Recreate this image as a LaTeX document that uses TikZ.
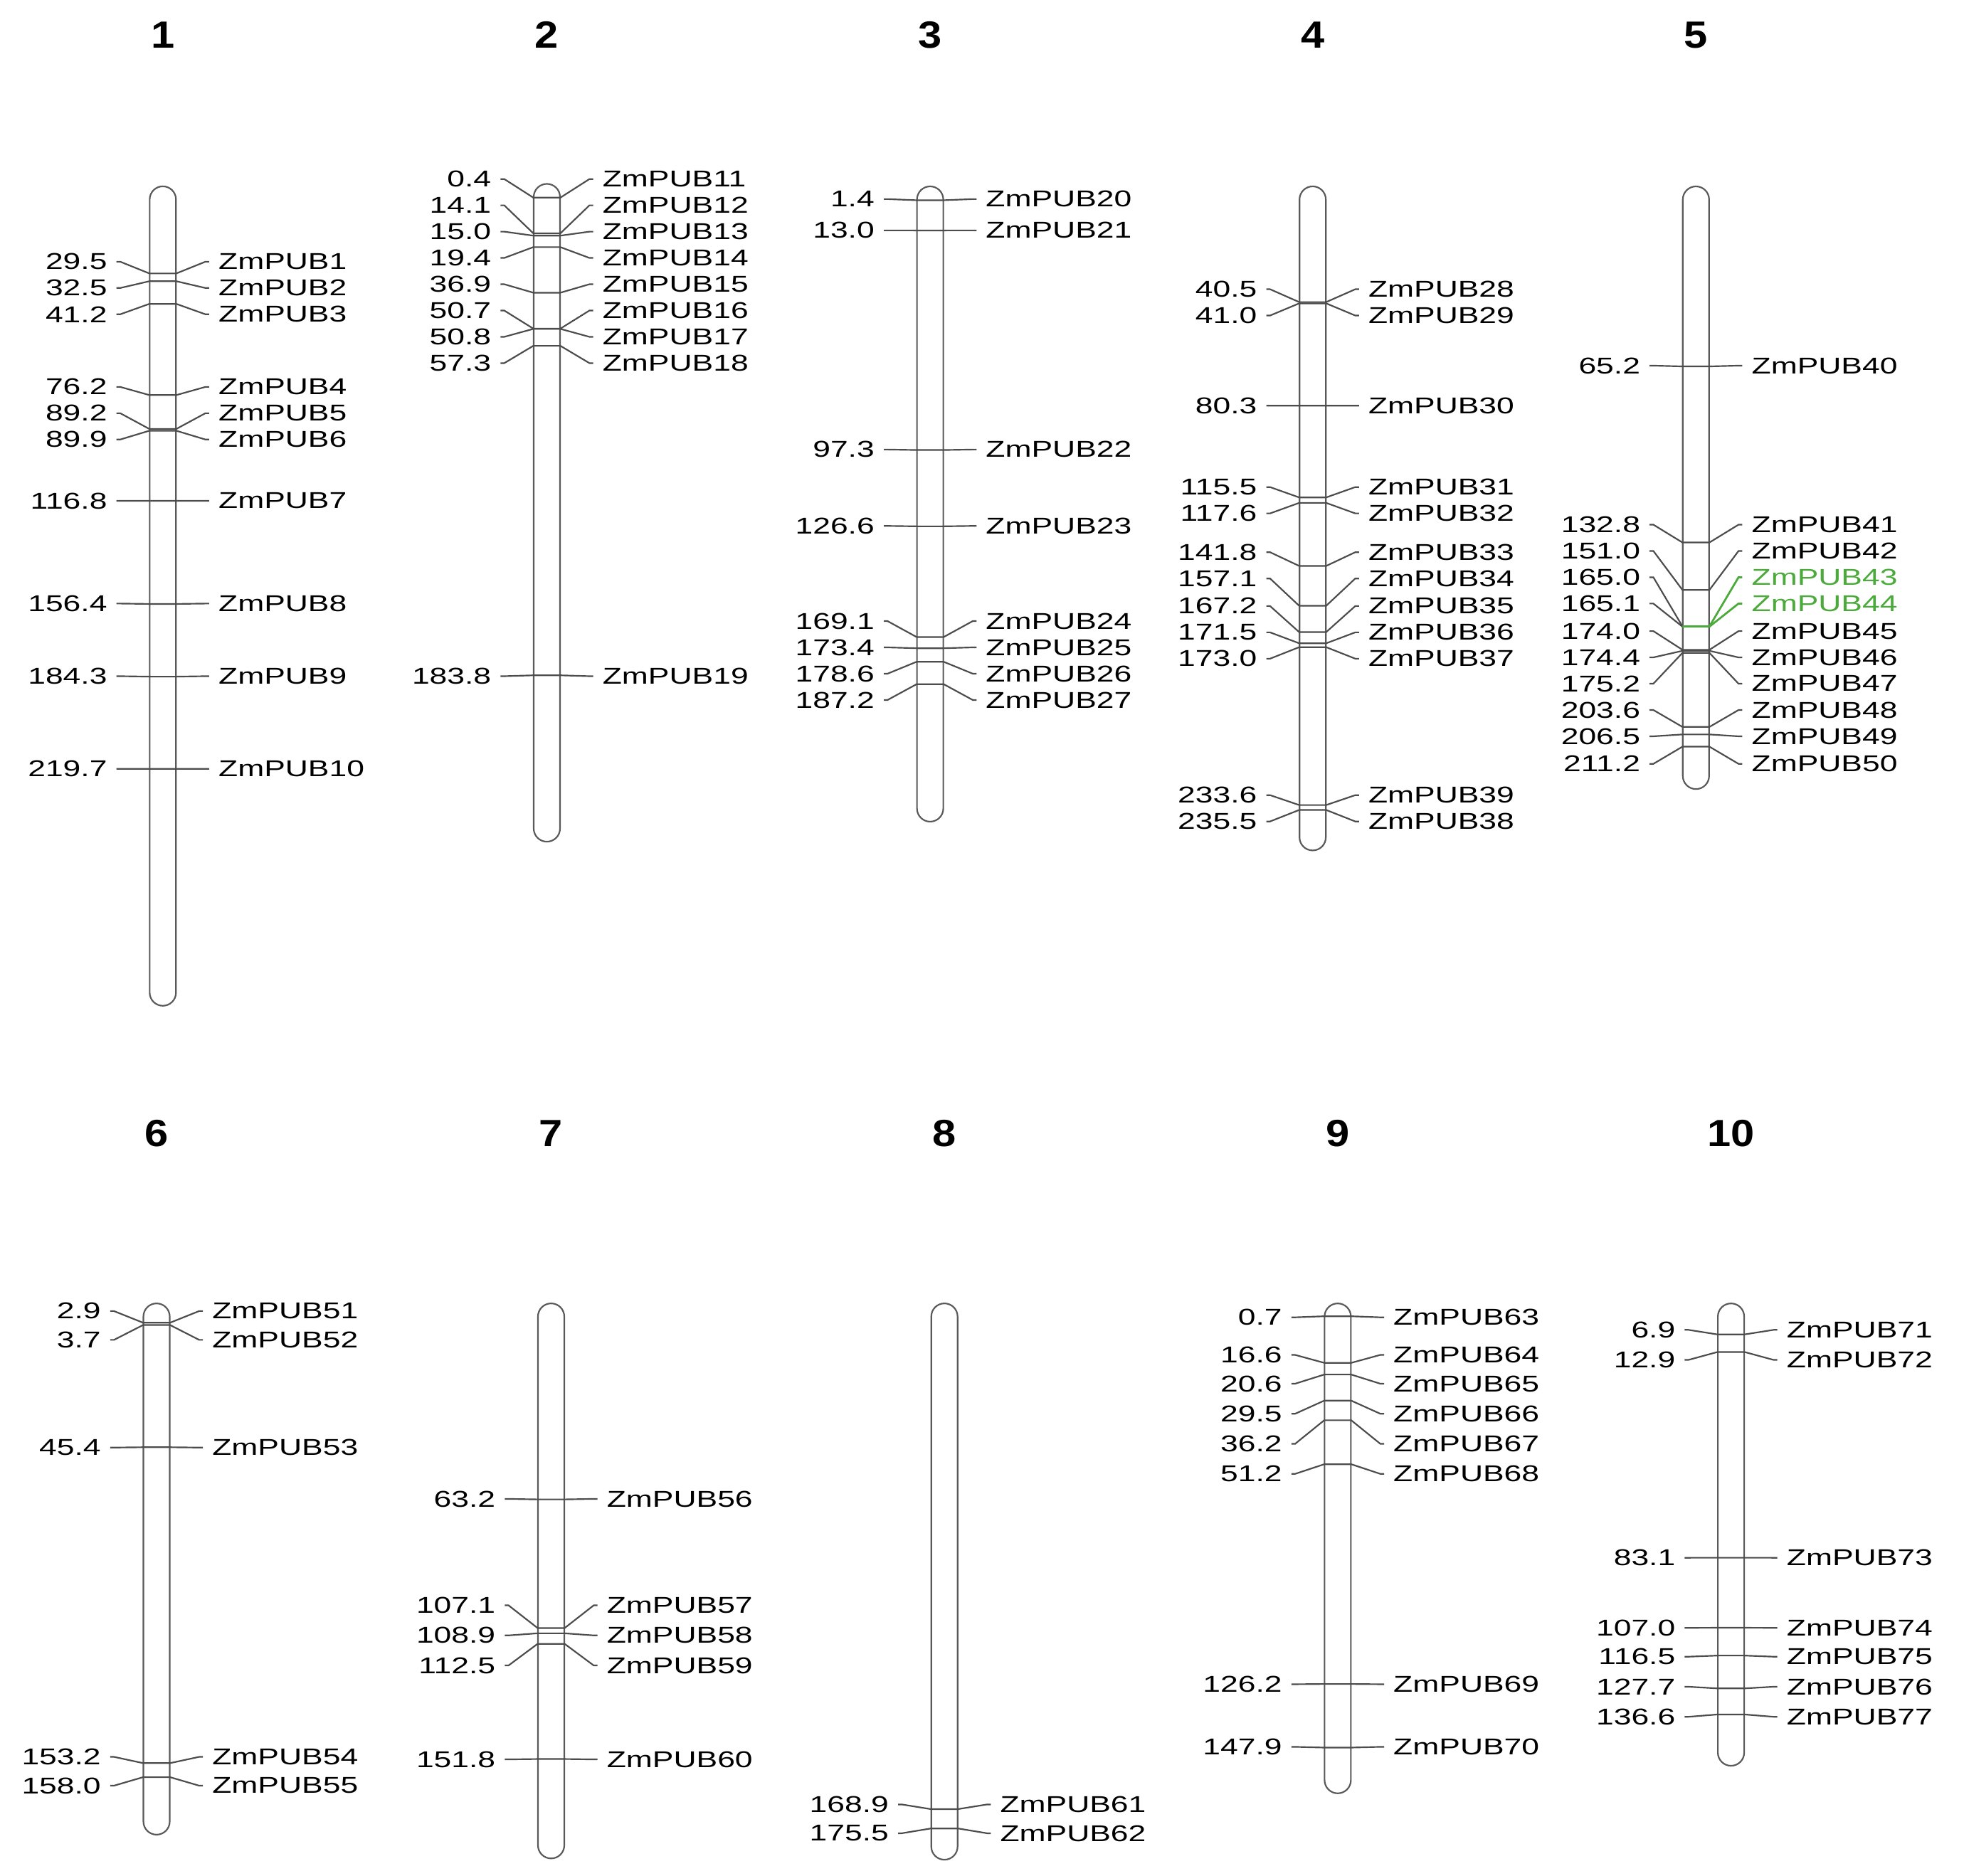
\documentclass[tikz,border=0pt]{standalone}
\usepackage{fontspec}
\newfontfamily\labfont[FakeStretch=1.38]{Liberation Sans}
\newfontfamily\titfont[FakeStretch=1.12]{Liberation Sans}
\definecolor{hitgreen}{RGB}{76,170,60}
\usetikzlibrary{positioning}

\begin{document}
\begin{tikzpicture}[x=0.01cm, y=-0.01cm,
    every node/.style={inner sep=0pt, outer sep=0pt},
    num/.style={font=\labfont\fontsize{5.2}{6}\selectfont, anchor=east},
    gene/.style={font=\labfont\fontsize{5.2}{6}\selectfont, anchor=west},
    hit/.style={gene, text=hitgreen},
    title/.style={font=\titfont\bfseries\fontsize{8.6}{10}\selectfont},
    chrom/.style={draw=black!65, line width=0.35pt, fill=white,
                  rounded corners=1.05mm, minimum width=0.21cm},
    link/.style={draw=black!70, line width=0.35pt},
    hitlink/.style={draw=hitgreen, line width=0.45pt}
]
    \useasboundingbox (0,0) rectangle (1568,1498);

    % chromosomes and their numbers
    \foreach \c/\cx/\cy/\h/\ty in {1/130/476/6.54cm/28, 2/436.6/409.5/5.25cm/28,
        3/742.6/402.5/5.07cm/28, 4/1048/414/5.30cm/28, 5/1354/389.5/4.81cm/28,
        6/125/1253/4.24cm/905, 7/440/1262.5/4.43cm/905, 8/754/1263/4.44cm/905,
        9/1068/1236.5/3.91cm/905, 10/1382/1225.5/3.69cm/905} {
        \node[chrom, minimum height=\h] (chr\c) at (\cx,\cy) {};
        \node[title] (t\c) at (\cx,\ty) {\c};
    }

    % top row: 157 + 2.08 per Mb
    \foreach \cx/\pos/\ly/\g in {
        130/29.5/209/1, 130/32.5/230/2, 130/41.2/251/3, 130/76.2/309/4,
        130/89.2/330/5, 130/89.9/351/6, 130/116.8/400/7, 130/156.4/482/8,
        130/184.3/540/9, 130/219.7/614/10,
        436.6/0.4/143/11, 436.6/14.1/164/12, 436.6/15.0/185/13, 436.6/19.4/206/14,
        436.6/36.9/227/15, 436.6/50.7/248/16, 436.6/50.8/269/17, 436.6/57.3/290/18,
        436.6/183.8/540/19,
        742.6/1.4/159/20, 742.6/13.0/184/21, 742.6/97.3/359/22, 742.6/126.6/420/23,
        742.6/169.1/496/24, 742.6/173.4/517/25, 742.6/178.6/538/26, 742.6/187.2/559/27,
        1048/40.5/231/28, 1048/41.0/252/29, 1048/80.3/324/30, 1048/115.5/389/31,
        1048/117.6/410/32, 1048/141.8/441/33, 1048/157.1/462/34, 1048/167.2/484/35,
        1048/171.5/505/36, 1048/173.0/526/37, 1048/233.6/635/39, 1048/235.5/656/38,
        1354/65.2/292/40, 1354/132.8/419/41, 1354/151.0/440/42, 1354/174.0/504/45,
        1354/174.4/525/46, 1354/175.2/546/47, 1354/203.6/567/48, 1354/206.5/588/49,
        1354/211.2/610/50} {
        \pgfmathsetmacro\by{157+2.08*\pos}
        \node[num] (n\g) at (\cx-44.5,\ly) {\pos};
        \node[gene] (g\g) at (\cx+44.5,\ly) {ZmPUB\g};
        \coordinate (a\g) at (\cx-37,\ly);
        \coordinate (b\g) at (\cx+37,\ly);
        \coordinate (l\g) at (\cx-10.8,\by);
        \coordinate (r\g) at (\cx+10.8,\by);
        \draw[link] (a\g) -- ++(3,0) -- (l\g) -- (r\g) -- ([xshift=-0.03cm]b\g) -- (b\g);
    }

    % the two highlighted genes
    \foreach \pos/\ly/\g in {165.0/461/43, 165.1/482/44} {
        \pgfmathsetmacro\by{157+2.08*\pos}
        \node[num] (n\g) at (1354-44.5,\ly) {\pos};
        \node[hit] (g\g) at (1354+44.5,\ly) {ZmPUB\g};
        \coordinate (a\g) at (1354-37,\ly);
        \coordinate (b\g) at (1354+37,\ly);
        \coordinate (l\g) at (1354-10.8,\by);
        \coordinate (r\g) at (1354+10.8,\by);
        \draw[link] (a\g) -- ++(3,0) -- (l\g);
        \draw[hitlink] (l\g) -- (r\g) -- ([xshift=-0.03cm]b\g) -- (b\g);
    }

    % bottom row: 1049.5 + 2.34 per Mb
    \foreach \cx/\pos/\ly/\g in {
        125/2.9/1047/51, 125/3.7/1070/52, 125/45.4/1156/53, 125/153.2/1403/54,
        125/158.0/1426/55,
        440/63.2/1197/56, 440/107.1/1282/57, 440/108.9/1306/58, 440/112.5/1330/59,
        440/151.8/1405/60,
        754/168.9/1441/61, 754/175.5/1464/62,
        1068/0.7/1052/63, 1068/16.6/1082/64, 1068/20.6/1105/65, 1068/29.5/1129/66,
        1068/36.2/1153/67, 1068/51.2/1177/68, 1068/126.2/1345/69, 1068/147.9/1395/70,
        1382/6.9/1062/71, 1382/12.9/1086/72, 1382/83.1/1244/73, 1382/107.0/1300/74,
        1382/116.5/1323/75, 1382/127.7/1347/76, 1382/136.6/1371/77} {
        \pgfmathsetmacro\by{1049.5+2.34*\pos}
        \node[num] (n\g) at (\cx-44.5,\ly) {\pos};
        \node[gene] (g\g) at (\cx+44.5,\ly) {ZmPUB\g};
        \coordinate (a\g) at (\cx-37,\ly);
        \coordinate (b\g) at (\cx+37,\ly);
        \coordinate (l\g) at (\cx-10.8,\by);
        \coordinate (r\g) at (\cx+10.8,\by);
        \draw[link] (a\g) -- ++(3,0) -- (l\g) -- (r\g) -- ([xshift=-0.03cm]b\g) -- (b\g);
    }
\end{tikzpicture}
\end{document}
